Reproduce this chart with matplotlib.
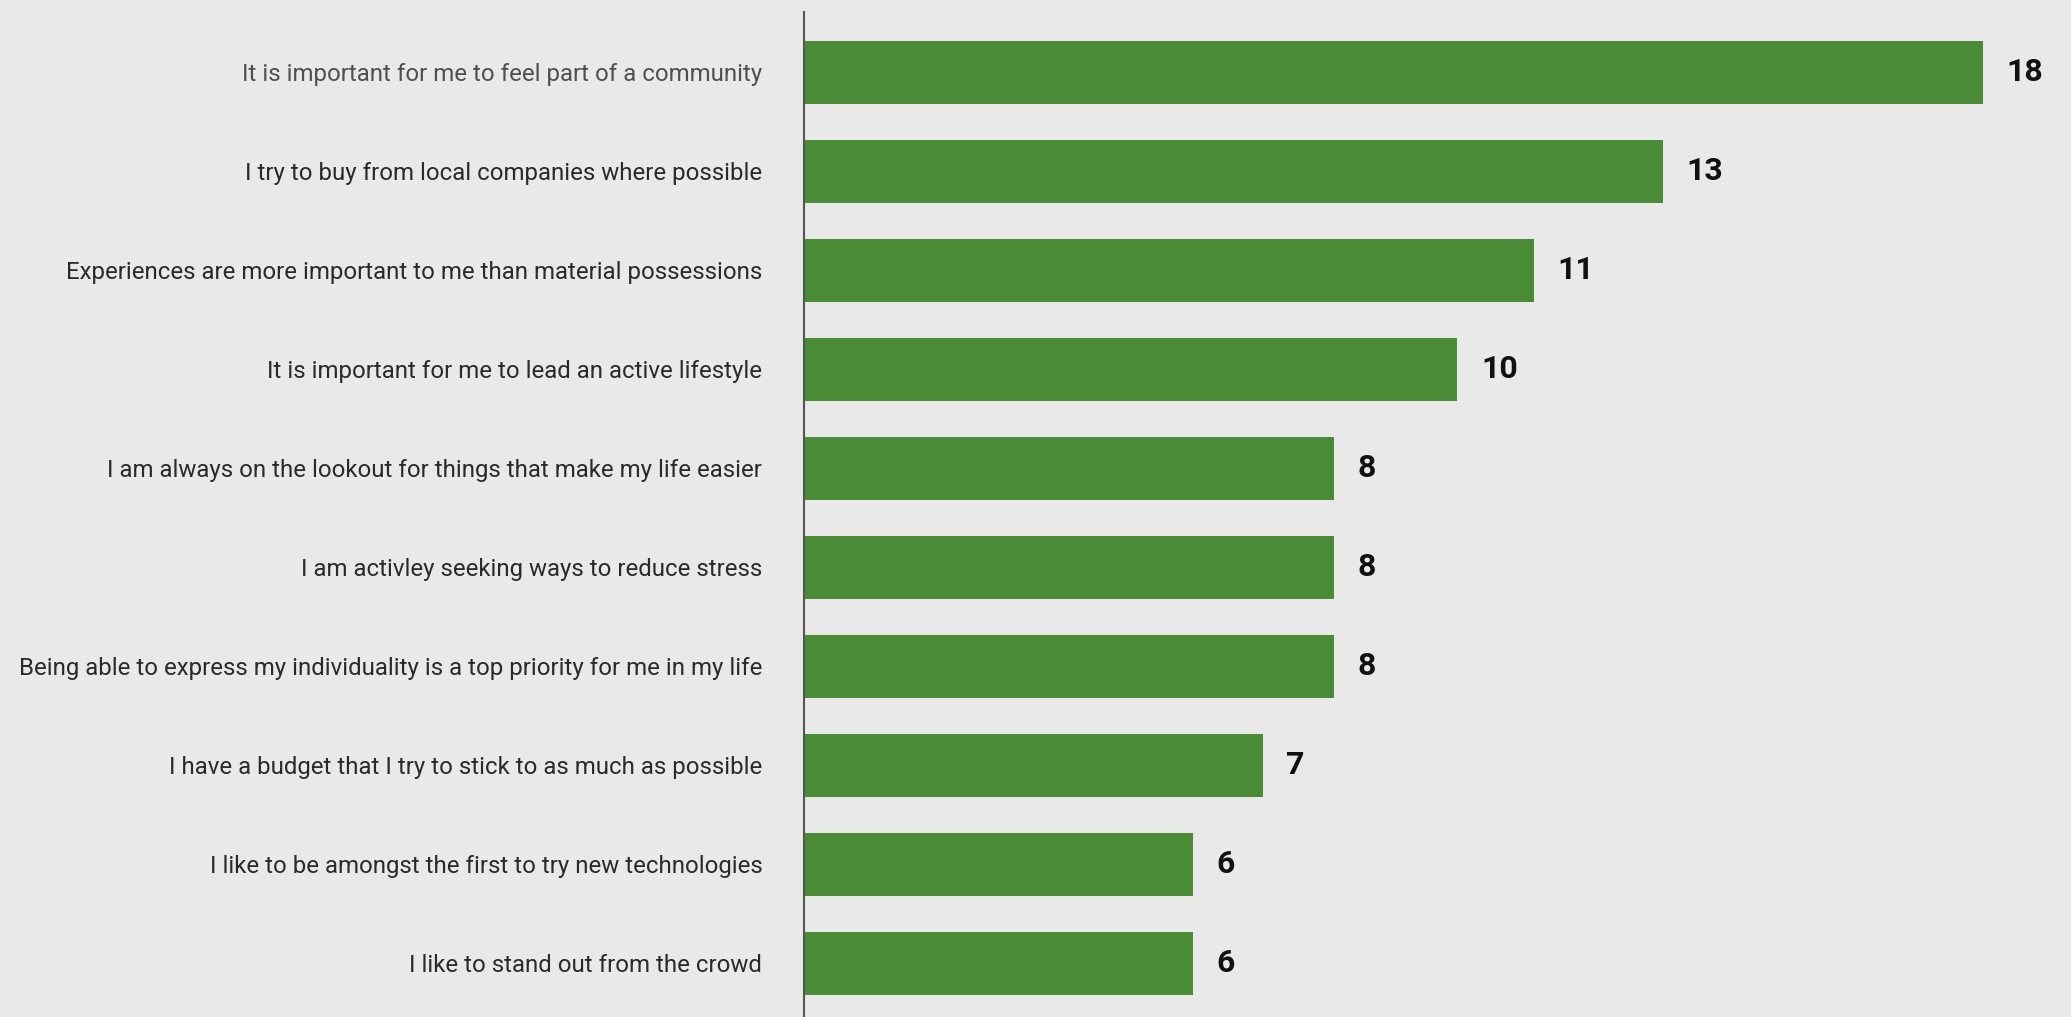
import matplotlib
matplotlib.use("Agg")
import matplotlib.pyplot as plt

categories = [
    "It is important for me to feel part of a community",
    "I try to buy from local companies where possible",
    "Experiences are more important to me than material possessions",
    "It is important for me to lead an active lifestyle",
    "I am always on the lookout for things that make my life easier",
    "I am activley seeking ways to reduce stress",
    "Being able to express my individuality is a top priority for me in my life",
    "I have a budget that I try to stick to as much as possible",
    "I like to be amongst the first to try new technologies",
    "I like to stand out from the crowd",
]
values = [17.86, 13.01, 11.06, 9.90, 8.03, 8.03, 8.03, 6.95, 5.89, 5.89]
value_labels = ["18", "13", "11", "10", "8", "8", "8", "7", "6", "6"]

BG = "#e9e9e9"
GREEN = "#4a8c35"

plt.rcParams['font.family'] = ['Roboto', 'DejaVu Sans']

fig = plt.figure(figsize=(20.71, 10.17), dpi=100, facecolor=BG)
ax = fig.add_axes([804 / 2071, 0.0, 1 - 804 / 2071, 1 - 12 / 1017])
ax.set_facecolor(BG)

ypos = list(range(len(categories)))
bars = ax.barh(ypos, values, height=0.636, color=GREEN, zorder=2)

ax.set_xlim(0, 1267 / 66)
ax.set_ylim(len(categories) - 1 + 0.541, -0.611)

ax.set_yticks(ypos)
ax.set_yticklabels(categories, fontsize=17.3, color="#2a2a2a")
ax.get_yticklabels()[0].set_color("#505050")
ax.tick_params(axis='y', length=0, pad=30)
ax.set_xticks([])

for s in ["top", "right", "bottom"]:
    ax.spines[s].set_visible(False)
ax.spines["left"].set_color("#555555")
ax.spines["left"].set_linewidth(1.5)
ax.spines["left"].set_zorder(3)

for y, v, lab in zip(ypos, values, value_labels):
    ax.annotate(lab, xy=(v, y), xytext=(17, 0), textcoords="offset points",
                ha="left", va="center", fontsize=23, fontweight="bold", color="#111111")

fig.savefig("out.png", dpi=100, facecolor=BG)
